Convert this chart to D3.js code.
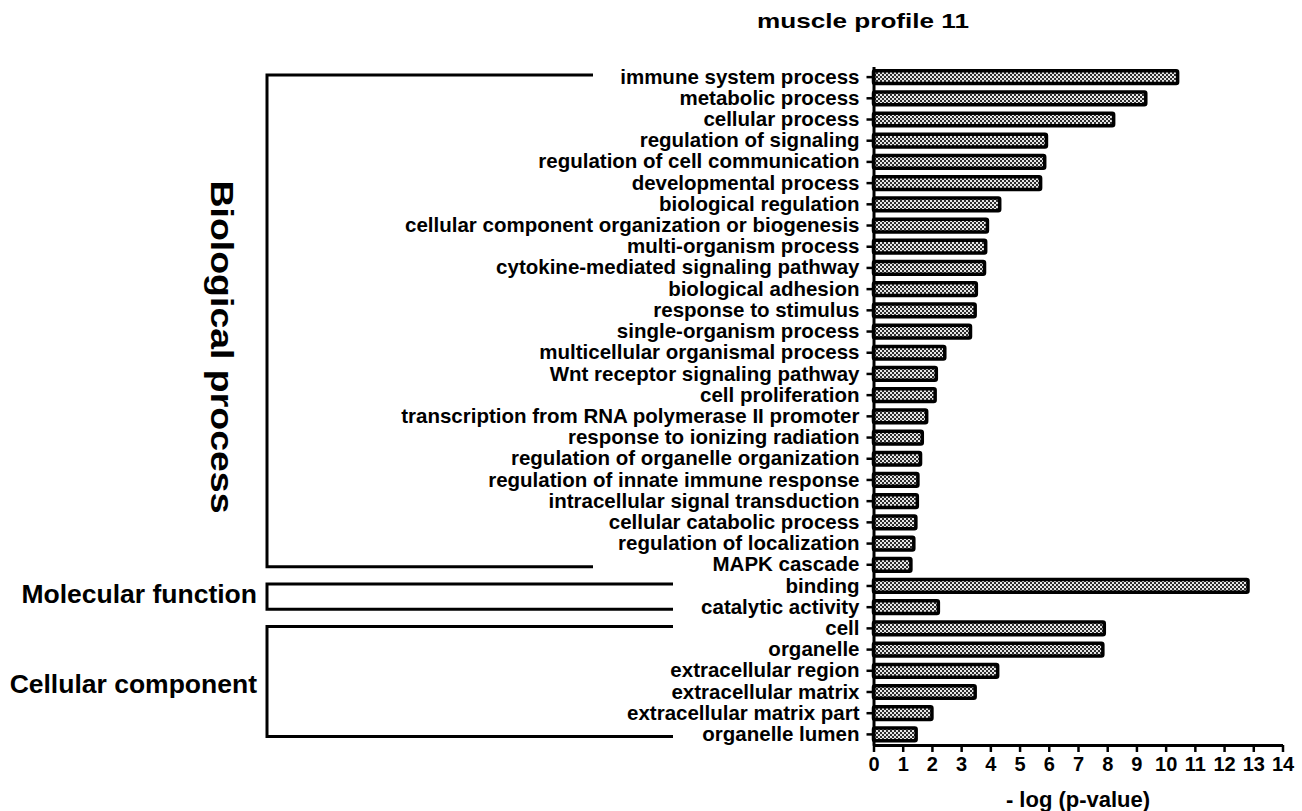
<!DOCTYPE html>
<html>

<head>
    <meta charset="utf-8" />
    <style>
        body {
            margin: 0;
            background-color: white;
        }

        text {
            font-family: "Liberation Sans", Arial, sans-serif;
            font-weight: bold;
            fill: black;
        }
    </style>

    <script src="https://d3js.org/d3.v7.min.js"></script>
</head>

<body>
    <script>
        // GO terms, top to bottom
        var categories = [
            "immune system process", "metabolic process", "cellular process",
            "regulation of signaling", "regulation of cell communication",
            "developmental process", "biological regulation",
            "cellular component organization or biogenesis", "multi-organism process",
            "cytokine-mediated signaling pathway", "biological adhesion",
            "response to stimulus", "single-organism process",
            "multicellular organismal process", "Wnt receptor signaling pathway",
            "cell proliferation", "transcription from RNA polymerase II promoter",
            "response to ionizing radiation", "regulation of organelle organization",
            "regulation of innate immune response", "intracellular signal transduction",
            "cellular catabolic process", "regulation of localization", "MAPK cascade",
            "binding", "catalytic activity",
            "cell", "organelle", "extracellular region", "extracellular matrix",
            "extracellular matrix part", "organelle lumen"
        ];
        // - log (p-value)
        var values = [
            10.41, 9.32, 8.22, 5.92, 5.86, 5.72, 4.32, 3.90, 3.84, 3.80,
            3.52, 3.48, 3.32, 2.44, 2.15, 2.11, 1.82, 1.67, 1.61, 1.52,
            1.50, 1.45, 1.38, 1.28,
            12.82, 2.22,
            7.90, 7.85, 4.25, 3.48, 2.00, 1.46
        ];
        var xTicks = [0, 1, 2, 3, 4, 5, 6, 7, 8, 9, 10, 11, 12, 13, 14];

        var groupNames = ["Biological process", "Molecular function", "Cellular component"];
        var groupFirst = ["immune system process", "binding", "cell"];
        var groupLast = ["MAPK cascade", "catalytic activity", "organelle lumen"];

        var width = 1302,
            height = 811;

        var svg = d3.select("body").append("svg")
            .attr("width", width)
            .attr("height", height);

        var defs = svg.append("defs");
        var pat = defs.append("pattern")
            .attr("id", "checker")
            .attr("width", 4)
            .attr("height", 4)
            .attr("patternUnits", "userSpaceOnUse");
        pat.append("rect").attr("width", 4).attr("height", 4).attr("fill", "#e6e6e6");
        pat.append("rect").attr("width", 2).attr("height", 2).attr("fill", "#2e2e2e");
        pat.append("rect").attr("x", 2).attr("y", 2).attr("width", 2).attr("height", 2).attr("fill", "#2e2e2e");

        var x = d3.scaleLinear().domain([0, 14]).range([873.5, 1282.5]);
        var y = d3.scaleBand().domain(categories).range([66.5, 745])
            .paddingInner(0.4).paddingOuter(0.2);

        // bars
        svg.append("g").selectAll("rect")
            .data(categories)
            .join("rect")
            .attr("x", x(0))
            .attr("y", function (d) { return y(d); })
            .attr("width", function (d, i) { return x(values[i]) - x(0); })
            .attr("height", y.bandwidth())
            .attr("rx", 1.5)
            .attr("fill", "url(#checker)")
            .attr("stroke", "black")
            .attr("stroke-width", 3.5);

        // axes
        var yAxis = svg.append("g")
            .attr("transform", "translate(" + x(0) + ",0)")
            .call(d3.axisLeft(y).tickSize(7).tickSizeOuter(0).tickPadding(7));
        yAxis.selectAll("text").style("font-size", "20.5px");

        var xAxis = svg.append("g")
            .attr("transform", "translate(0,745)")
            .call(d3.axisBottom(x).tickValues(xTicks).tickFormat(d3.format("d"))
                .tickSize(7).tickSizeOuter(0).tickPadding(5));
        xAxis.selectAll("text").style("font-size", "20px");

        svg.selectAll(".domain").attr("stroke", "black").attr("stroke-width", 3);
        svg.selectAll(".tick line").attr("stroke", "black").attr("stroke-width", 2.5);

        svg.append("text")
            .attr("x", (x(0) + x(14)) / 2)
            .attr("y", 807)
            .attr("text-anchor", "middle")
            .style("font-size", "22px")
            .text("- log (p-value)");

        // title
        svg.append("text")
            .attr("x", 757)
            .attr("y", 28)
            .attr("textLength", 212)
            .attr("lengthAdjust", "spacingAndGlyphs")
            .style("font-size", "20.5px")
            .text("muscle profile 11");

        // group brackets
        var bracketX = 267;
        var bracketEnd = [593, 673, 673];
        groupNames.forEach(function (name, i) {
            var top = y(groupFirst[i]) + y.bandwidth() / 2 - 2;
            var bot = y(groupLast[i]) + y.bandwidth() / 2 + 2;
            svg.append("path")
                .attr("d", "M" + bracketEnd[i] + "," + top + "H" + bracketX + "V" + bot + "H" + bracketEnd[i])
                .attr("fill", "none")
                .attr("stroke", "black")
                .attr("stroke-width", 3);
        });

        svg.append("text")
            .attr("transform", "translate(222,347) rotate(90)")
            .attr("text-anchor", "middle")
            .attr("dy", "0.35em")
            .attr("textLength", 333)
            .attr("lengthAdjust", "spacingAndGlyphs")
            .style("font-size", "32px")
            .text(groupNames[0]);

        svg.append("text")
            .attr("x", 257)
            .attr("y", 603)
            .attr("text-anchor", "end")
            .style("font-size", "26.5px")
            .text(groupNames[1]);

        svg.append("text")
            .attr("x", 257)
            .attr("y", 693)
            .attr("text-anchor", "end")
            .style("font-size", "26.5px")
            .text(groupNames[2]);
    </script>
</body>

</html>
